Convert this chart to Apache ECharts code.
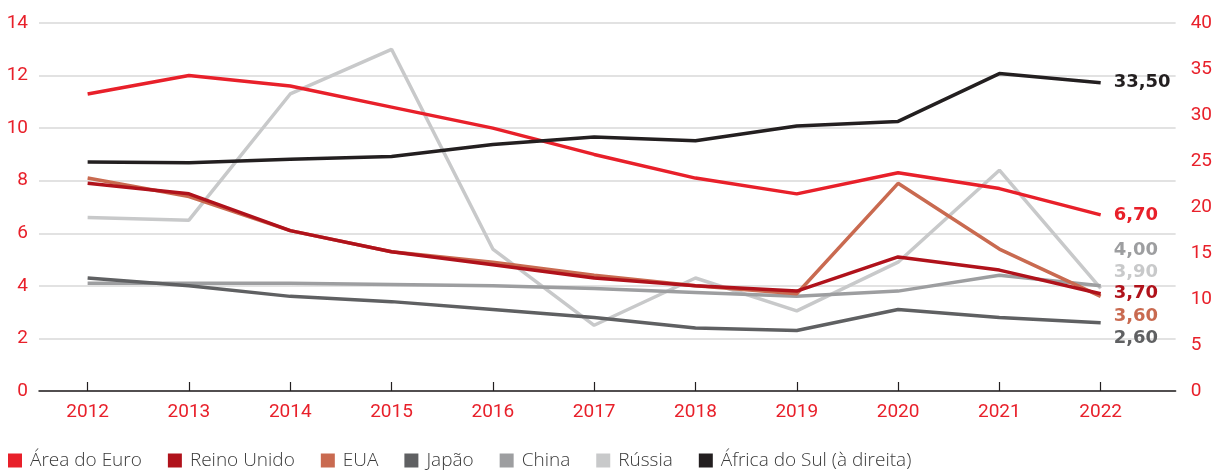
<!DOCTYPE html>
<html>
<head>
<meta charset="utf-8">
<script src="https://cdn.jsdelivr.net/npm/echarts@6/dist/echarts.min.js"></script>
<style>
  html, body { margin: 0; padding: 0; background: #fff; }
  #chart { width: 1215px; height: 470px; }
</style>
</head>
<body>
<div id="chart"></div>
<script>
const years = [2012, 2013, 2014, 2015, 2016, 2017, 2018, 2019, 2020, 2021, 2022];

const areaEuro = [11.3, 12.0, 11.6, 10.8, 10.0, 9.0, 8.1, 7.5, 8.3, 7.7, 6.7];
const reinoUnido = [7.9, 7.5, 6.1, 5.3, 4.8, 4.3, 4.0, 3.8, 5.1, 4.6, 3.7];
const eua = [8.1, 7.4, 6.1, 5.3, 4.9, 4.4, 4.0, 3.7, 7.9, 5.4, 3.6];
const japao = [4.3, 4.0, 3.6, 3.4, 3.1, 2.8, 2.4, 2.3, 3.1, 2.8, 2.6];
const china = [4.1, 4.1, 4.1, 4.05, 4.0, 3.9, 3.75, 3.6, 3.8, 4.4, 4.0];
const russia = [6.6, 6.5, 11.3, 13.0, 5.4, 2.5, 4.3, 3.05, 4.9, 8.4, 3.9];
const africaSul = [24.9, 24.8, 25.2, 25.5, 26.8, 27.6, 27.2, 28.8, 29.3, 34.5, 33.5];

const leftTicks = { min: 0, max: 14, interval: 2 };
const rightTicks = { min: 0, max: 40, interval: 5 };

const RED = '#e8202a';

const chart = echarts.init(document.getElementById('chart'));

const makeSeries = (name, values, color, opts) => ({
  name,
  type: 'line',
  yAxisIndex: opts.right ? 1 : 0,
  data: values.map((v, i) => [years[i], v]),
  showSymbol: false,
  symbol: 'none',
  lineStyle: { color, width: 3.5 },
  itemStyle: { color },
  z: opts.z,
  silent: true,
  animation: false,
  endLabel: {
    show: true,
    distance: 13,
    offset: [0, opts.dy || 0],
    color,
    fontFamily: 'DejaVu Sans',
    fontWeight: 'bold',
    fontSize: 18,
    formatter: (p) => p.value[1].toFixed(2).replace('.', ','),
  },
});

chart.setOption({
  animation: false,
  textStyle: { fontFamily: 'Roboto' },
  grid: { left: 39, right: 39, top: 23, bottom: 79 },
  legend: {
    left: 8,
    top: 451,
    icon: 'rect',
    itemWidth: 14,
    itemHeight: 14,
    itemGap: 26,
    padding: 0,
    textStyle: {
      color: '#3a3a3a',
      fontSize: 19,
      fontFamily: 'Open Sans',
      fontWeight: 300,
      padding: [0, 0, 0, 3],
    },
    data: ['Área do Euro', 'Reino Unido', 'EUA', 'Japão', 'China', 'Rússia', 'África do Sul (à direita)'],
  },
  xAxis: {
    type: 'value',
    min: 2011.52,
    max: 2022.74,
    splitLine: { show: false },
    axisLine: { show: true, lineStyle: { color: '#231f20', width: 1.5 } },
    axisTick: { show: true, inside: true, length: 9, customValues: years, lineStyle: { color: '#231f20', width: 1.2 } },
    axisLabel: {
      customValues: years,
      color: RED,
      fontSize: 19,
      margin: 12,
      formatter: (v) => String(v),
    },
  },
  yAxis: [
    {
      type: 'value',
      min: leftTicks.min,
      max: leftTicks.max,
      interval: leftTicks.interval,
      axisLine: { show: false },
      axisTick: { show: false },
      axisLabel: { color: RED, fontSize: 19, margin: 11 },
      splitLine: { lineStyle: { color: '#d9d9d9', width: 1.5 } },
    },
    {
      type: 'value',
      position: 'right',
      min: rightTicks.min,
      max: rightTicks.max,
      interval: rightTicks.interval,
      axisLine: { show: false },
      axisTick: { show: false },
      axisLabel: { color: RED, fontSize: 19, margin: 15 },
      splitLine: { show: false },
    },
  ],
  series: [
    makeSeries('Rússia', russia, '#c8c9ca', { z: 2, dy: -16 }),
    makeSeries('China', china, '#9d9ea0', { z: 3, dy: -36 }),
    makeSeries('Japão', japao, '#5f6062', { z: 4, dy: 16 }),
    makeSeries('EUA', eua, '#c96a50', { z: 5, dy: 20 }),
    makeSeries('Reino Unido', reinoUnido, '#b0121b', { z: 6, dy: 0 }),
    makeSeries('Área do Euro', areaEuro, RED, { z: 7, dy: 0 }),
    makeSeries('África do Sul (à direita)', africaSul, '#231f20', { z: 8, dy: 0, right: true }),
  ],
});

window.addEventListener('resize', () => chart.resize());
</script>
</body>
</html>
